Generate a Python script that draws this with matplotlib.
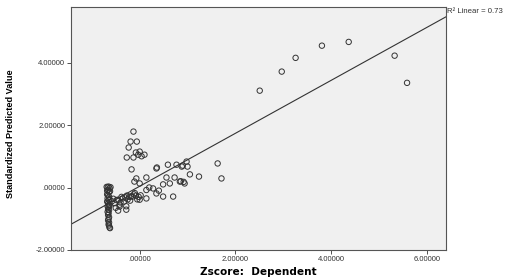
import matplotlib.pyplot as plt
from matplotlib.ticker import FuncFormatter

plt.rcParams['font.family'] = ['Liberation Sans', 'DejaVu Sans']

# ---------------- dados ----------------
# coluna densa perto de x = -0.65
col_x = [-0.69, -0.67, -0.65, -0.63, -0.61, -0.68, -0.66, -0.64, -0.62, -0.68,
         -0.66, -0.64, -0.67, -0.65, -0.63, -0.68, -0.66, -0.64, -0.67, -0.65,
         -0.63, -0.66, -0.64, -0.67, -0.65, -0.66, -0.64, -0.65, -0.66, -0.64,
         -0.65, -0.64, -0.63, -0.62]
col_y = [0.02, 0.0, 0.03, -0.02, 0.01, -0.10, -0.08, -0.15, -0.12, -0.22,
         -0.25, -0.30, -0.35, -0.40, -0.38, -0.45, -0.50, -0.55, -0.60, -0.62,
         -0.58, -0.70, -0.72, -0.78, -0.82, -0.88, -0.95, -1.00, -1.05, -1.12,
         -1.18, -1.22, -1.28, -1.30]

# pontos entre a coluna e zero
mid_x = [-0.58, -0.55, -0.52, -0.48, -0.45, -0.42, -0.40, -0.36, -0.33, -0.30,
         -0.28, -0.25, -0.22, -0.18, -0.15, -0.12, -0.08, -0.05, -0.02, 0.02,
         -0.45, -0.42, -0.28, -0.50, -0.38, -0.20, -0.10, 0.00, 0.14, -0.27]
mid_y = [-0.44, -0.36, -0.50, -0.40, -0.39, -0.61, -0.48, -0.35, -0.45, -0.32,
         -0.71, -0.38, -0.30, -0.28, -0.29, -0.22, -0.26, -0.38, -0.30, -0.25,
         -0.74, -0.55, -0.60, -0.65, -0.30, -0.42, -0.18, -0.39, -0.35, -0.26]

# grupo acima da reta perto de x = 0
up_x = [-0.13, -0.19, -0.06, -0.23, 0.00, -0.27, -0.13, 0.10, -0.17, 0.36,
        -0.03, 0.04, -0.08]
up_y = [1.79, 1.47, 1.47, 1.28, 1.15, 0.96, 0.96, 1.05, 0.58, 0.64,
        1.05, 1.00, 1.12]

# grupo a direita (0 a 1.7)
right_x = [0.59, 0.77, 0.88, 0.98, 1.00, 0.35, 0.14, 0.56, 0.73, 1.05,
           0.84, 0.63, 0.49, 0.94, 0.28, 0.14, 0.49, 0.70, 0.35, -0.07,
           -0.11, 0.00, 1.24, 1.63, 1.71, 0.90, 0.86, 0.92, 0.20, 0.40]
right_y = [0.73, 0.73, 0.67, 0.83, 0.67, 0.61, 0.32, 0.32, 0.32, 0.42,
           0.19, 0.13, 0.10, 0.13, -0.03, -0.08, -0.29, -0.29, -0.19, 0.29,
           0.19, 0.13, 0.35, 0.77, 0.29, 0.70, 0.20, 0.18, 0.00, -0.10]

# outliers
out_x = [2.51, 2.97, 3.26, 3.81, 4.37, 5.33, 5.59]
out_y = [3.10, 3.71, 4.15, 4.54, 4.66, 4.22, 3.35]

# reta de ajuste (extremos lidos)
fit_x = [-1.44, 6.40]
fit_y = [-1.18, 5.46]

x_ticks = [0, 2, 4, 6]
y_ticks = [-2, 0, 2, 4]

# ---------------- grafico ----------------
def fmt(v, pos):
    if v == 0:
        return '.00000'
    return '%.5f' % v

fig = plt.figure(figsize=(5.13, 2.77), dpi=100)
ax = fig.add_axes([0.138, 0.0975, 0.731, 0.8775])
ax.set_facecolor('#f0f0f0')

todos_x = col_x + mid_x + up_x + right_x + out_x
todos_y = col_y + mid_y + up_y + right_y + out_y
ax.scatter(todos_x, todos_y, s=15, facecolors='none', edgecolors='#333333',
           linewidths=0.7, zorder=3)
ax.plot(fit_x, fit_y, color='#333333', linewidth=0.8, zorder=2)

ax.set_xlim(-1.44, 6.40)
ax.set_ylim(-2.0, 5.78)
ax.set_xticks(x_ticks)
ax.set_yticks(y_ticks)
ax.xaxis.set_major_formatter(FuncFormatter(fmt))
ax.yaxis.set_major_formatter(FuncFormatter(fmt))
ax.tick_params(direction='out', length=3, width=0.6, labelsize=5.5,
               colors='#333333', pad=1)
for s in ax.spines.values():
    s.set_color('#555555')
    s.set_linewidth(0.8)

ax.set_xlabel('Zscore:  Dependent', fontsize=7.6, fontweight='bold', labelpad=3,
              family=['DejaVu Sans'])
ax.set_ylabel('Standardized Predicted Value', fontsize=6.6, fontweight='bold')
ax.yaxis.set_label_coords(-0.15, 0.48)

fig.text(0.871, 0.957, 'R² Linear = 0.73', fontsize=5.6, color='#333333',
         ha='left', va='center')

plt.savefig('out.png', dpi=100)
